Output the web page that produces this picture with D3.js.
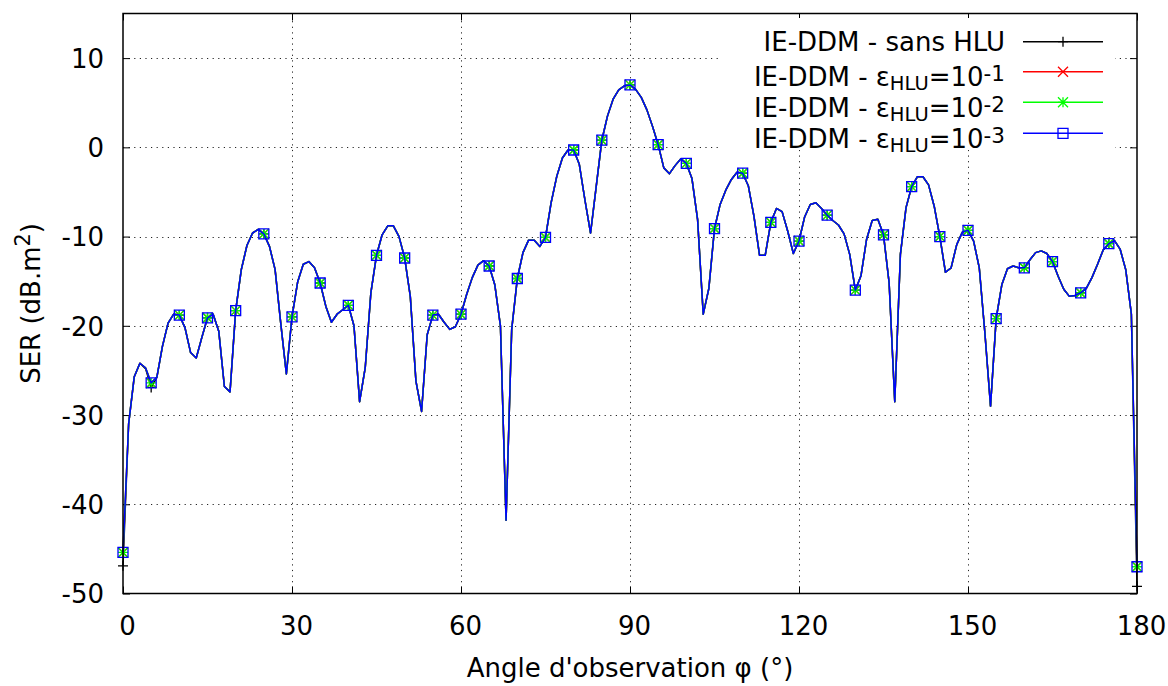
<!DOCTYPE html>
<html>
<head>
<meta charset="utf-8">
<script src="https://cdn.jsdelivr.net/npm/d3@7"></script>
<style>
  html, body { margin: 0; padding: 0; background: #fff; }
  svg { display: block; font-family: "DejaVu Sans", sans-serif; }
</style>
</head>
<body>
<svg id="chart" width="1168" height="686"></svg>
<script>
// ---------- data ----------
const angles = d3.range(0, 181); // observation angle, degrees (1° step)

// SER (dB.m²) with HLU compression (ε = 1e-1, 1e-2, 1e-3 curves are superimposed)
const serHLU = [
  -45.4, -31.0, -25.7, -24.2, -24.7, -26.4, -25.8, -22.3, -19.7, -18.7,
  -18.8, -20.2, -23.0, -23.6, -21.3, -19.1, -18.7, -20.6, -26.8, -27.4,
  -18.3, -13.7, -11.0,  -9.6,  -9.2,  -9.7, -11.1, -13.7, -19.7, -25.4,
  -19.0, -15.1, -13.1, -12.8, -13.5, -15.2, -17.8, -19.6, -18.7, -18.2,
  -17.7, -20.0, -28.5, -24.7, -16.3, -12.1,  -9.8,  -8.8,  -8.8, -10.0,
  -12.4, -16.7, -26.2, -29.6, -21.0, -18.8, -18.7, -19.6, -20.4, -20.1,
  -18.7, -16.5, -14.6, -13.2, -12.7, -13.3, -15.4, -20.0, -41.8, -20.4,
  -14.7, -11.8, -10.4, -10.4, -11.1, -10.1,  -6.2,  -3.25, -1.2, -0.3,
   -0.3,  -1.9,  -5.9,  -9.6,  -4.4,   0.8,   3.5,   5.4,   6.45,  6.9,
    7.0,   6.5,   5.6,   4.2,   2.35,  0.3,  -2.3,  -2.95, -2.05, -1.3,
   -1.8,  -3.5,  -8.1, -18.7, -15.8,  -9.1,  -6.4,  -4.8,  -3.6,  -2.8,
   -2.9,  -4.3,  -7.7, -12.1, -12.1,  -8.4,  -6.85, -7.2,  -9.4, -11.9,
  -10.5,  -7.8,  -6.4,  -6.2,  -6.85, -7.6,  -8.2,  -8.7,  -9.7, -12.0,
  -16.0, -14.4, -10.3,  -8.2,  -8.05, -9.8, -15.2, -28.5, -12.0,  -6.75,
   -4.4,  -3.3,  -3.3,  -4.2,  -6.6, -10.0, -14.0, -13.5, -10.9,  -9.5,
   -9.3, -10.5, -13.5, -20.8, -29.0, -19.2, -15.4, -13.6, -13.3, -13.5,
  -13.5, -12.6, -11.8, -11.6, -11.9, -12.8, -14.45, -15.9, -16.7, -16.6,
  -16.3, -15.8, -14.6, -13.1, -11.5, -10.8, -10.45, -11.4, -13.7, -18.7,
  -47.0
];

// SER without HLU (differs visibly only at the ends and at 5°)
const serSansHLU = [
  -46.9, -31.0, -25.7, -24.2, -24.8, -26.9, -25.8, -22.3, -19.7, -18.7,
  -18.8, -20.2, -23.0, -23.6, -21.3, -19.1, -18.7, -20.6, -26.8, -27.4,
  -18.3, -13.7, -11.0,  -9.6,  -9.2,  -9.7, -11.1, -13.7, -19.7, -25.4,
  -19.0, -15.1, -13.1, -12.8, -13.5, -15.2, -17.8, -19.6, -18.7, -18.2,
  -17.7, -20.0, -28.5, -24.7, -16.3, -12.1,  -9.8,  -8.8,  -8.8, -10.0,
  -12.4, -16.7, -26.2, -29.6, -21.0, -18.8, -18.7, -19.6, -20.4, -20.1,
  -18.7, -16.5, -14.6, -13.2, -12.7, -13.3, -15.4, -20.0, -41.8, -20.4,
  -14.7, -11.8, -10.4, -10.4, -11.1, -10.1,  -6.2,  -3.25, -1.2, -0.3,
   -0.3,  -1.9,  -5.9,  -9.6,  -4.4,   0.8,   3.5,   5.4,   6.45,  6.9,
    7.0,   6.5,   5.6,   4.2,   2.35,  0.3,  -2.3,  -2.95, -2.05, -1.3,
   -1.8,  -3.5,  -8.1, -18.7, -15.8,  -9.1,  -6.4,  -4.8,  -3.6,  -2.8,
   -2.9,  -4.3,  -7.7, -12.1, -12.1,  -8.4,  -6.85, -7.2,  -9.4, -11.9,
  -10.5,  -7.8,  -6.4,  -6.2,  -6.85, -7.6,  -8.2,  -8.7,  -9.7, -12.0,
  -16.0, -14.4, -10.3,  -8.2,  -8.05, -9.8, -15.2, -28.5, -12.0,  -6.75,
   -4.4,  -3.3,  -3.3,  -4.2,  -6.6, -10.0, -14.0, -13.5, -10.9,  -9.5,
   -9.3, -10.5, -13.5, -20.8, -29.0, -19.2, -15.4, -13.6, -13.3, -13.5,
  -13.5, -12.6, -11.8, -11.6, -11.9, -12.8, -14.45, -15.9, -16.7, -16.6,
  -16.3, -15.8, -14.6, -13.1, -11.5, -10.8, -10.45, -11.4, -13.7, -18.7,
  -49.2
];

const serEps1 = serHLU;   // ε_HLU = 10^-1
const serEps2 = serHLU;   // ε_HLU = 10^-2
const serEps3 = serHLU;   // ε_HLU = 10^-3

const xTicks = [0, 30, 60, 90, 120, 150, 180];
const yTicks = [-50, -40, -30, -20, -10, 0, 10];
const markerStep = 5;

const seriesNames = ["sans HLU", "-1", "-2", "-3"];
const seriesValues = [serSansHLU, serEps1, serEps2, serEps3];
const seriesColors = ["#000000", "#ff0000", "#00ff00", "#0000ff"];
const seriesMarkers = ["plus", "cross", "star", "square"];

// ---------- layout ----------
const L = 123, R = 1137, T = 13.5, B = 593.5;
const svg = d3.select("#chart");
const x = d3.scaleLinear().domain([0, 180]).range([L, R]);
const y = d3.scaleLinear().domain([-50, 15]).range([B, T]);
const FS = 26;
const fmt = d => String(d); // plain hyphen-minus like the reference

// grid
const grid = svg.append("g").attr("stroke", "#000").attr("stroke-width", 1)
  .attr("stroke-dasharray", "1.2,4.4").attr("opacity", 0.85);
grid.selectAll("line.gx").data(xTicks.filter(d => d > 0 && d < 180)).join("line")
  .attr("x1", d => Math.round(x(d)) + 0.5).attr("x2", d => Math.round(x(d)) + 0.5)
  .attr("y1", B).attr("y2", T);
grid.selectAll("line.gy").data(yTicks.filter(d => d > -50)).join("line")
  .attr("y1", d => Math.round(y(d)) + 0.5).attr("y2", d => Math.round(y(d)) + 0.5)
  .attr("x1", L).attr("x2", R);

// axes (ticks inside, mirrored)
function styleAxis(g) {
  g.select(".domain").remove();
  g.selectAll(".tick line").attr("stroke", "#000").attr("stroke-width", 1);
}
const TK = 7;
svg.append("g").attr("transform", `translate(0,${B})`)
  .call(d3.axisBottom(x).tickValues(xTicks).tickSize(-TK).tickPadding(0).tickFormat(fmt))
  .call(styleAxis)
  .call(g => g.selectAll("text").attr("x", 4).attr("y", 41).attr("dy", null)
    .attr("font-size", FS).attr("font-family", "DejaVu Sans").attr("fill", "#000"));
svg.append("g").attr("transform", `translate(0,${T})`)
  .call(d3.axisTop(x).tickValues(xTicks).tickSize(-TK).tickFormat(""))
  .call(styleAxis);
svg.append("g").attr("transform", `translate(${L},0)`)
  .call(d3.axisLeft(y).tickValues(yTicks).tickSize(-TK).tickPadding(0).tickFormat(fmt))
  .call(styleAxis)
  .call(g => g.selectAll("text").attr("x", -19).attr("dy", "0.36em")
    .attr("font-size", FS).attr("font-family", "DejaVu Sans").attr("fill", "#000"));
svg.append("g").attr("transform", `translate(${R},0)`)
  .call(d3.axisRight(y).tickValues(yTicks).tickSize(-TK).tickFormat(""))
  .call(styleAxis);

// markers
function markerPath(type, s) {
  switch (type) {
    case "plus": return `M${-s},0H${s}M0,${-s}V${s}`;
    case "cross": return `M${-s},${-s}L${s},${s}M${-s},${s}L${s},${-s}`;
    case "star": return `M${-s},0H${s}M0,${-s}V${s}M${-s},${-s}L${s},${s}M${-s},${s}L${s},${-s}`;
    case "square": return `M${-s},${-s}H${s}V${s}H${-s}Z`;
  }
}

// curves
const line = d3.line().x(d => x(d[0])).y(d => y(d[1]));
const plot = svg.append("g");
seriesValues.forEach((vals, i) => {
  const pts = angles.map((a, k) => [a, vals[k]]);
  plot.append("path").datum(pts)
    .attr("fill", "none").attr("stroke", seriesColors[i])
    .attr("stroke-width", 1.5).attr("stroke-linejoin", "round")
    .attr("d", line);
  plot.selectAll(null).data(pts.filter(p => p[0] % markerStep === 0)).join("path")
    .attr("transform", p => `translate(${x(p[0])},${y(p[1])})`)
    .attr("d", markerPath(seriesMarkers[i], 5))
    .attr("fill", "none").attr("stroke", seriesColors[i]).attr("stroke-width", 1.3);
});

// border
svg.append("rect").attr("x", L).attr("y", T).attr("width", R - L).attr("height", B - T)
  .attr("fill", "none").attr("stroke", "#000").attr("stroke-width", 1.5);

// legend (opaque box, no border)
const leg = svg.append("g");
leg.append("rect").attr("x", 722).attr("y", 18).attr("width", 393).attr("height", 132).attr("fill", "#fff");
const rowY = [41.7, 71.7, 102.3, 133.3];
const textRight = 1005, sampleX1 = 1023, sampleX2 = 1103, markX = 1063;
seriesNames.forEach((name, i) => {
  const cy = rowY[i];
  const t = leg.append("text").attr("x", textRight).attr("text-anchor", "end")
    .attr("font-size", FS).attr("fill", "#000");
  if (i === 0) {
    t.attr("y", cy + 9).text("IE-DDM - " + name);
  } else {
    t.attr("y", cy + 14.7);
    t.append("tspan").text("IE-DDM - \u03B5");
    t.append("tspan").attr("font-size", 19.5).attr("dy", 4).text("HLU");
    t.append("tspan").attr("dy", -4).text("=10");
    t.append("tspan").attr("font-size", 21.5).attr("dy", -5).text(name);
  }
  leg.append("line").attr("x1", sampleX1).attr("x2", sampleX2).attr("y1", cy).attr("y2", cy)
    .attr("stroke", seriesColors[i]).attr("stroke-width", 1.5);
  leg.append("path").attr("transform", `translate(${markX},${cy})`)
    .attr("d", markerPath(seriesMarkers[i], 5))
    .attr("fill", "none").attr("stroke", seriesColors[i]).attr("stroke-width", 1.3);
});

// axis labels
svg.append("text").attr("x", (L + R) / 2).attr("y", 677).attr("text-anchor", "middle")
  .attr("font-size", FS).attr("fill", "#000").text("Angle d'observation \u03C6 (\u00B0)");
const yl = svg.append("text").attr("transform", `translate(40,${(T + B) / 2}) rotate(-90)`)
  .attr("text-anchor", "middle").attr("font-size", FS).attr("fill", "#000");
yl.append("tspan").text("SER (dB.m");
yl.append("tspan").attr("font-size", FS * 0.8).attr("dy", -10).text("2");
yl.append("tspan").attr("dy", 10).text(")");
</script>
</body>
</html>
